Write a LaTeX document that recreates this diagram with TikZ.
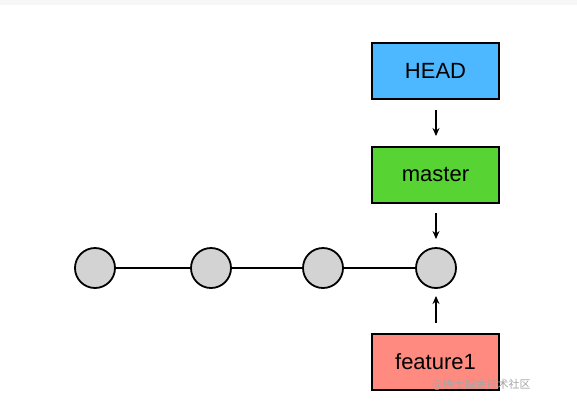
\documentclass[tikz,border=0pt]{standalone}
\usepackage{fontspec}
\setmainfont{Liberation Sans}
\newfontfamily\cjk{Noto Sans CJK SC}
\usetikzlibrary{arrows.meta}
\definecolor{headblue}{HTML}{4DB8FF}
\definecolor{mastergreen}{HTML}{57D433}
\definecolor{featred}{HTML}{FF8A80}
\definecolor{commitgray}{HTML}{D3D3D3}
\begin{document}
\begin{tikzpicture}[x=1pt,y=-1pt,
  refbox/.style={draw=black,line width=2pt,minimum width=127pt,minimum height=56pt,inner sep=0pt,font=\fontsize{22}{25}\selectfont},
  commit/.style={circle,draw=black,line width=1.8pt,fill=commitgray,minimum size=40pt,inner sep=0pt},
  ptr/.style={-{Stealth[length=8pt,width=7pt]},line width=1.6pt},
  link/.style={line width=1.5pt}]
\useasboundingbox (0,0) rectangle (577,400);
\fill[black!3] (0,0) rectangle (577,5);
\node[refbox,fill=headblue] (head) at (435.5,71) {HEAD};
\node[refbox,fill=mastergreen] (master) at (435.5,174.5) {master};
\node[refbox,fill=featred] (feat) at (435.5,361.5) {feature1};
\node[commit] (c1) at (95,268) {};
\node[commit] (c2) at (211,268) {};
\node[commit] (c3) at (323,268) {};
\node[commit] (c4) at (436,268) {};
\draw[link] (c1) -- (c2);
\draw[link] (c2) -- (c3);
\draw[link] (c3) -- (c4);
\coordinate (a1s) at (436,110);
\coordinate (a1e) at (436,136);
\coordinate (a2s) at (436,213);
\coordinate (a2e) at (436,239);
\coordinate (a3s) at (436,323);
\coordinate (a3e) at (436,296);
\draw[ptr] (a1s) -- (a1e);
\draw[ptr] (a2s) -- (a2e);
\draw[ptr] (a3s) -- (a3e);
\node[text=black!35,font=\cjk\fontsize{11}{12}\selectfont,anchor=west,inner sep=0pt] (wm) at (432,385) {@稀土掘金技术社区};
\end{tikzpicture}
\end{document}
